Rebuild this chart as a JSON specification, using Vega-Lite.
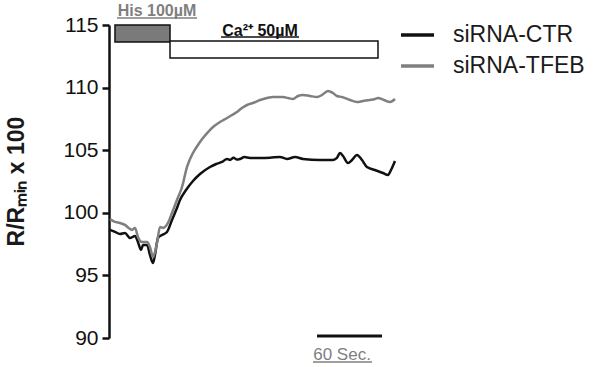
{
  "$schema": "https://vega.github.io/schema/vega-lite/v6.json",
  "autosize": "none",
  "width": 285,
  "height": 313,
  "padding": {"left": 110, "top": 25, "right": 198, "bottom": 29},
  "background": "white",
  "config": {"view": {"stroke": null}, "font": "Liberation Sans"},
  "datasets": {
    "traces": [
      {"series": "siRNA-CTR", "t": 0, "v": 98.63},
      {"series": "siRNA-CTR", "t": 4.6, "v": 98.47},
      {"series": "siRNA-CTR", "t": 9.2, "v": 98.31},
      {"series": "siRNA-CTR", "t": 13.8, "v": 98.39},
      {"series": "siRNA-CTR", "t": 18.5, "v": 97.99},
      {"series": "siRNA-CTR", "t": 23.1, "v": 98.15},
      {"series": "siRNA-CTR", "t": 25.8, "v": 97.67},
      {"series": "siRNA-CTR", "t": 28.6, "v": 97.03},
      {"series": "siRNA-CTR", "t": 30.5, "v": 97.43},
      {"series": "siRNA-CTR", "t": 34.2, "v": 97.43},
      {"series": "siRNA-CTR", "t": 36.9, "v": 96.63},
      {"series": "siRNA-CTR", "t": 39.7, "v": 95.99},
      {"series": "siRNA-CTR", "t": 41.5, "v": 96.63},
      {"series": "siRNA-CTR", "t": 44.3, "v": 97.99},
      {"series": "siRNA-CTR", "t": 48.0, "v": 98.23},
      {"series": "siRNA-CTR", "t": 52.6, "v": 98.47},
      {"series": "siRNA-CTR", "t": 57.2, "v": 99.42},
      {"series": "siRNA-CTR", "t": 61.8, "v": 100.38},
      {"series": "siRNA-CTR", "t": 64.6, "v": 101.02},
      {"series": "siRNA-CTR", "t": 70.2, "v": 101.82},
      {"series": "siRNA-CTR", "t": 76.6, "v": 102.54},
      {"series": "siRNA-CTR", "t": 83.1, "v": 103.1},
      {"series": "siRNA-CTR", "t": 92.3, "v": 103.66},
      {"series": "siRNA-CTR", "t": 98.0, "v": 103.9},
      {"series": "siRNA-CTR", "t": 103.4, "v": 104.06},
      {"series": "siRNA-CTR", "t": 108.0, "v": 104.3},
      {"series": "siRNA-CTR", "t": 110.8, "v": 104.22},
      {"series": "siRNA-CTR", "t": 114.0, "v": 104.4},
      {"series": "siRNA-CTR", "t": 117.2, "v": 104.25},
      {"series": "siRNA-CTR", "t": 120.0, "v": 104.3},
      {"series": "siRNA-CTR", "t": 124.0, "v": 104.45},
      {"series": "siRNA-CTR", "t": 129.2, "v": 104.38},
      {"series": "siRNA-CTR", "t": 138.5, "v": 104.38},
      {"series": "siRNA-CTR", "t": 147.7, "v": 104.4},
      {"series": "siRNA-CTR", "t": 156.9, "v": 104.46},
      {"series": "siRNA-CTR", "t": 163.4, "v": 104.3},
      {"series": "siRNA-CTR", "t": 170.8, "v": 104.46},
      {"series": "siRNA-CTR", "t": 178.2, "v": 104.3},
      {"series": "siRNA-CTR", "t": 193.8, "v": 104.22},
      {"series": "siRNA-CTR", "t": 205.8, "v": 104.22},
      {"series": "siRNA-CTR", "t": 209.5, "v": 104.38},
      {"series": "siRNA-CTR", "t": 212.3, "v": 104.78},
      {"series": "siRNA-CTR", "t": 215.1, "v": 104.54},
      {"series": "siRNA-CTR", "t": 219.7, "v": 103.98},
      {"series": "siRNA-CTR", "t": 223.4, "v": 104.22},
      {"series": "siRNA-CTR", "t": 228.0, "v": 104.62},
      {"series": "siRNA-CTR", "t": 232.6, "v": 104.22},
      {"series": "siRNA-CTR", "t": 237.2, "v": 103.66},
      {"series": "siRNA-CTR", "t": 244.6, "v": 103.42},
      {"series": "siRNA-CTR", "t": 252.0, "v": 103.18},
      {"series": "siRNA-CTR", "t": 256.6, "v": 103.02},
      {"series": "siRNA-CTR", "t": 259.4, "v": 103.42},
      {"series": "siRNA-CTR", "t": 263.1, "v": 104.14},
      {"series": "siRNA-TFEB", "t": 0, "v": 99.5},
      {"series": "siRNA-TFEB", "t": 4.6, "v": 99.27},
      {"series": "siRNA-TFEB", "t": 9.2, "v": 99.19},
      {"series": "siRNA-TFEB", "t": 13.8, "v": 99.03},
      {"series": "siRNA-TFEB", "t": 18.5, "v": 98.71},
      {"series": "siRNA-TFEB", "t": 20.3, "v": 98.63},
      {"series": "siRNA-TFEB", "t": 23.1, "v": 98.79},
      {"series": "siRNA-TFEB", "t": 25.8, "v": 98.07},
      {"series": "siRNA-TFEB", "t": 29.5, "v": 97.67},
      {"series": "siRNA-TFEB", "t": 34.2, "v": 97.67},
      {"series": "siRNA-TFEB", "t": 36.9, "v": 97.27},
      {"series": "siRNA-TFEB", "t": 39.7, "v": 96.47},
      {"series": "siRNA-TFEB", "t": 41.5, "v": 96.87},
      {"series": "siRNA-TFEB", "t": 43.4, "v": 97.59},
      {"series": "siRNA-TFEB", "t": 46.2, "v": 98.87},
      {"series": "siRNA-TFEB", "t": 48.9, "v": 98.79},
      {"series": "siRNA-TFEB", "t": 53.5, "v": 99.19},
      {"series": "siRNA-TFEB", "t": 57.2, "v": 99.98},
      {"series": "siRNA-TFEB", "t": 61.8, "v": 101.02},
      {"series": "siRNA-TFEB", "t": 66.5, "v": 102.06},
      {"series": "siRNA-TFEB", "t": 71.1, "v": 103.66},
      {"series": "siRNA-TFEB", "t": 76.6, "v": 104.78},
      {"series": "siRNA-TFEB", "t": 81.2, "v": 105.42},
      {"series": "siRNA-TFEB", "t": 85.8, "v": 105.97},
      {"series": "siRNA-TFEB", "t": 90.5, "v": 106.45},
      {"series": "siRNA-TFEB", "t": 95.1, "v": 106.85},
      {"series": "siRNA-TFEB", "t": 101.5, "v": 107.25},
      {"series": "siRNA-TFEB", "t": 108.0, "v": 107.57},
      {"series": "siRNA-TFEB", "t": 112.6, "v": 107.81},
      {"series": "siRNA-TFEB", "t": 117.2, "v": 108.05},
      {"series": "siRNA-TFEB", "t": 121.8, "v": 108.37},
      {"series": "siRNA-TFEB", "t": 126.5, "v": 108.61},
      {"series": "siRNA-TFEB", "t": 132.0, "v": 108.77},
      {"series": "siRNA-TFEB", "t": 138.5, "v": 109.01},
      {"series": "siRNA-TFEB", "t": 144.9, "v": 109.17},
      {"series": "siRNA-TFEB", "t": 150.5, "v": 109.25},
      {"series": "siRNA-TFEB", "t": 156.9, "v": 109.25},
      {"series": "siRNA-TFEB", "t": 159.7, "v": 109.25},
      {"series": "siRNA-TFEB", "t": 164.3, "v": 109.17},
      {"series": "siRNA-TFEB", "t": 168.9, "v": 109.09},
      {"series": "siRNA-TFEB", "t": 173.5, "v": 109.33},
      {"series": "siRNA-TFEB", "t": 178.2, "v": 109.41},
      {"series": "siRNA-TFEB", "t": 184.6, "v": 109.33},
      {"series": "siRNA-TFEB", "t": 191.1, "v": 109.25},
      {"series": "siRNA-TFEB", "t": 195.7, "v": 109.41},
      {"series": "siRNA-TFEB", "t": 201.2, "v": 109.73},
      {"series": "siRNA-TFEB", "t": 205.8, "v": 109.57},
      {"series": "siRNA-TFEB", "t": 209.5, "v": 109.33},
      {"series": "siRNA-TFEB", "t": 214.2, "v": 109.25},
      {"series": "siRNA-TFEB", "t": 221.5, "v": 109.01},
      {"series": "siRNA-TFEB", "t": 228.0, "v": 108.85},
      {"series": "siRNA-TFEB", "t": 233.5, "v": 108.93},
      {"series": "siRNA-TFEB", "t": 240.0, "v": 109.01},
      {"series": "siRNA-TFEB", "t": 244.6, "v": 109.09},
      {"series": "siRNA-TFEB", "t": 247.4, "v": 109.17},
      {"series": "siRNA-TFEB", "t": 252.9, "v": 109.01},
      {"series": "siRNA-TFEB", "t": 258.5, "v": 108.85},
      {"series": "siRNA-TFEB", "t": 263.1, "v": 109.09}
    ],
    "boxes": [
      {"agent": "His", "t0": 4.6, "t1": 55.4, "v0": 115, "v1": 113.64},
      {"agent": "Ca", "t0": 55.4, "t1": 247.4, "v0": 113.72, "v1": 112.36}
    ],
    "labels": [
      {"kind": "his", "text": "His 100µM", "t": 43.4, "v": 116.1, "ut0": 6.5, "ut1": 80.3, "uv": 115.55},
      {"kind": "ca", "text": "Ca²⁺ 50µM", "t": 138.5, "v": 114.52, "ut0": 102.5, "ut1": 174.5, "uv": 114.04},
      {"kind": "sec", "text": "60 Sec.", "t": 214.2, "v": 88.64, "ut0": 187.4, "ut1": 241.8, "uv": 88.08}
    ],
    "scalebar": [
      {"t0": 191.1, "t1": 251.1, "v": 90.16}
    ]
  },
  "layer": [
    {
      "data": {"name": "boxes"},
      "mark": {"type": "rect", "stroke": "#111111", "strokeWidth": 1.5},
      "encoding": {
        "x": {"field": "t0", "type": "quantitative", "scale": {"domain": [0, 263.1], "nice": false, "zero": false}, "axis": null},
        "x2": {"field": "t1"},
        "y": {"field": "v0", "type": "quantitative"},
        "y2": {"field": "v1"},
        "fill": {"field": "agent", "type": "nominal", "scale": {"domain": ["His", "Ca"], "range": ["#7a7a7a", "#ffffff"]}, "legend": null}
      }
    },
    {
      "data": {"name": "traces"},
      "mark": {"type": "line", "strokeWidth": 2.5, "interpolate": "monotone"},
      "encoding": {
        "x": {"field": "t", "type": "quantitative", "scale": {"domain": [0, 263.1], "nice": false, "zero": false}, "axis": null},
        "y": {
          "field": "v", "type": "quantitative",
          "scale": {"domain": [90, 115], "nice": false, "zero": false},
          "axis": {
            "values": [90, 95, 100, 105, 110, 115],
            "offset": 1,
            "grid": false,
            "domainColor": "#111111", "domainWidth": 2.5,
            "tickColor": "#111111", "tickWidth": 2.5, "tickSize": 7,
            "labelFont": "Liberation Sans", "labelFontSize": 21, "labelColor": "#111111", "labelPadding": 4,
            "title": "R/Rₘᵢₙ x 100",
            "titleFont": "Liberation Sans", "titleFontSize": 23, "titleFontWeight": "bold", "titleColor": "#1a1a1a",
            "titleX": -93, "titleY": 156, "titleBaseline": "middle", "titleAngle": -90
          }
        },
        "color": {
          "field": "series", "type": "nominal",
          "scale": {"domain": ["siRNA-CTR", "siRNA-TFEB"], "range": ["#111111", "#7f7f7f"]},
          "legend": {
            "orient": "none", "legendX": 289, "legendY": -8.5,
            "title": null, "padding": 0,
            "symbolType": "stroke", "symbolSize": 1089, "symbolStrokeWidth": 3.5,
            "rowPadding": 0, "labelOffset": 17,
            "labelFont": "Liberation Sans", "labelFontSize": 23, "labelColor": "#1a1a1a"
          }
        }
      }
    },
    {
      "data": {"name": "scalebar"},
      "mark": {"type": "rule", "stroke": "#111111", "strokeWidth": 3},
      "encoding": {
        "x": {"field": "t0", "type": "quantitative"},
        "x2": {"field": "t1"},
        "y": {"field": "v", "type": "quantitative"}
      }
    },
    {
      "data": {"name": "labels"},
      "transform": [{"filter": "datum.kind === 'his'"}],
      "layer": [
        {"mark": {"type": "text", "font": "Liberation Sans", "fontSize": 16, "fontWeight": "bold", "color": "#7f7f7f", "baseline": "middle", "align": "center"},
         "encoding": {"x": {"field": "t", "type": "quantitative"}, "y": {"field": "v", "type": "quantitative"}, "text": {"field": "text"}}},
        {"mark": {"type": "rule", "stroke": "#7f7f7f", "strokeWidth": 1.5},
         "encoding": {"x": {"field": "ut0", "type": "quantitative"}, "x2": {"field": "ut1"}, "y": {"field": "uv", "type": "quantitative"}}}
      ]
    },
    {
      "data": {"name": "labels"},
      "transform": [{"filter": "datum.kind === 'ca'"}],
      "layer": [
        {"mark": {"type": "text", "font": "Liberation Sans", "fontSize": 16, "fontWeight": "bold", "color": "#111111", "baseline": "middle", "align": "center"},
         "encoding": {"x": {"field": "t", "type": "quantitative"}, "y": {"field": "v", "type": "quantitative"}, "text": {"field": "text"}}},
        {"mark": {"type": "rule", "stroke": "#111111", "strokeWidth": 1.5},
         "encoding": {"x": {"field": "ut0", "type": "quantitative"}, "x2": {"field": "ut1"}, "y": {"field": "uv", "type": "quantitative"}}}
      ]
    },
    {
      "data": {"name": "labels"},
      "transform": [{"filter": "datum.kind === 'sec'"}],
      "layer": [
        {"mark": {"type": "text", "font": "Liberation Sans", "fontSize": 17, "color": "#7f7f7f", "baseline": "middle", "align": "center"},
         "encoding": {"x": {"field": "t", "type": "quantitative"}, "y": {"field": "v", "type": "quantitative"}, "text": {"field": "text"}}},
        {"mark": {"type": "rule", "stroke": "#7f7f7f", "strokeWidth": 1.5},
         "encoding": {"x": {"field": "ut0", "type": "quantitative"}, "x2": {"field": "ut1"}, "y": {"field": "uv", "type": "quantitative"}}}
      ]
    }
  ]
}
